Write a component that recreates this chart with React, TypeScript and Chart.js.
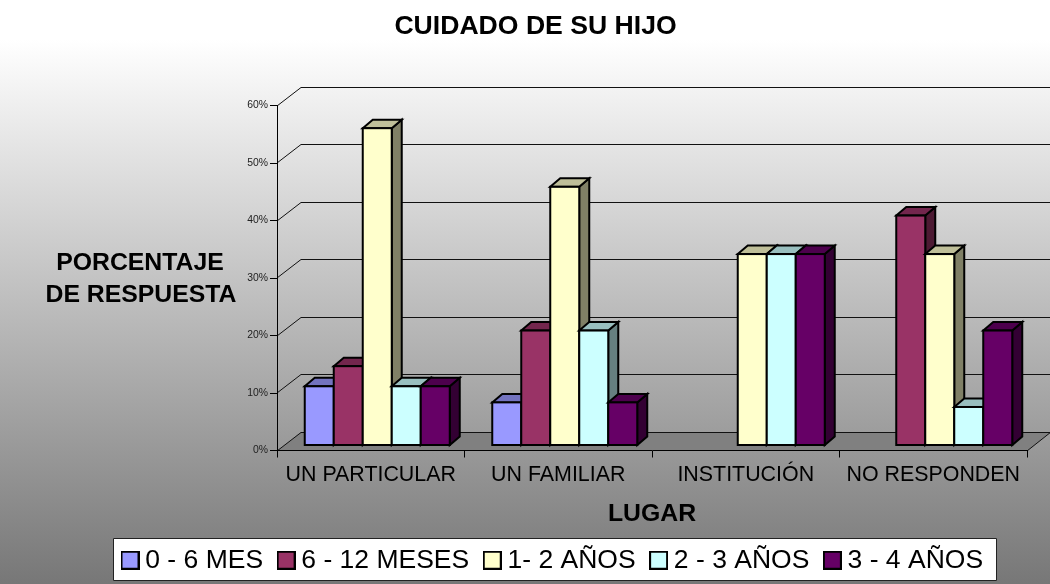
import React, { useEffect, useRef } from "react";
import { Chart, registerables } from "chart.js";

Chart.register(...registerables);

const categories = ["UN PARTICULAR", "UN FAMILIAR", "INSTITUCIÓN", "NO RESPONDEN"];
const seriesNames = ["0 - 6 MES", "6 - 12 MESES", "1- 2 AÑOS", "2 - 3 AÑOS", "3 - 4 AÑOS"];
const months0to6 = [10.3, 7.5, null, null];
const months6to12 = [13.8, 20, null, 40];
const years1to2 = [55.2, 45, 33.3, 33.3];
const years2to3 = [10.3, 20, 33.3, 6.7];
const years3to4 = [10.3, 7.5, 33.3, 20];
const seriesValues = [months0to6, months6to12, years1to2, years2to3, years3to4];
const seriesColors = ["#9999FF", "#993366", "#FFFFCC", "#CCFFFF", "#660066"];
const topColors = ["#7373BF", "#73264D", "#BFBF99", "#99BFBF", "#4D004D"];
const sideColors = ["#4D4D80", "#4D1A33", "#808066", "#668080", "#330033"];
const yTicks = [0, 10, 20, 30, 40, 50, 60];

const titleText = "CUIDADO DE SU HIJO";
const yTitleLines = ["PORCENTAJE", "DE RESPUESTA"];
const xTitleText = "LUGAR";
const FONT = '"Liberation Sans", Arial, sans-serif';

const WALL = { dx: 24, dy: -19 };
const BAR_OFFSET = { dx: 6.5, dy: -5 };
const BAR_DEPTH = { dx: 10, dy: -8.5 };

function swatch(color: string) {
  const c = document.createElement("canvas");
  c.width = 19;
  c.height = 19;
  const g = c.getContext("2d")!;
  g.fillStyle = color;
  g.fillRect(1, 1, 17, 17);
  g.strokeStyle = "#000";
  g.lineWidth = 2;
  g.strokeRect(1, 1, 17, 17);
  return c;
}

function poly(ctx: CanvasRenderingContext2D, pts: number[][], fill?: string, stroke?: string, lw = 1) {
  ctx.beginPath();
  pts.forEach((p, i) => (i ? ctx.lineTo(p[0], p[1]) : ctx.moveTo(p[0], p[1])));
  ctx.closePath();
  if (fill) {
    ctx.fillStyle = fill;
    ctx.fill();
  }
  if (stroke) {
    ctx.strokeStyle = stroke;
    ctx.lineWidth = lw;
    ctx.stroke();
  }
}

const scene3d = {
  id: "scene3d",
  beforeDraw(chart: any) {
    const { ctx, width, height, chartArea: a, scales } = chart;
    const grad = ctx.createLinearGradient(0, 0, 0, height);
    grad.addColorStop(0, "#FFFFFF");
    grad.addColorStop(0.068, "#FFFFFF");
    grad.addColorStop(1, "#777777");
    ctx.fillStyle = grad;
    ctx.fillRect(0, 0, width, height);

    // floor
    const y0 = Math.round(scales.y.getPixelForValue(0));
    poly(
      ctx,
      [
        [a.left, y0],
        [a.right, y0],
        [a.right + WALL.dx, y0 + WALL.dy],
        [a.left + WALL.dx, y0 + WALL.dy],
      ],
      "#808080"
    );

    // gridlines on side wall and back wall
    ctx.strokeStyle = "#111";
    ctx.lineWidth = 1;
    yTicks.forEach((v) => {
      const y = Math.round(scales.y.getPixelForValue(v));
      ctx.beginPath();
      ctx.moveTo(a.left, y);
      ctx.lineTo(a.left + WALL.dx, y + WALL.dy + 0.5);
      ctx.lineTo(a.right + WALL.dx, y + WALL.dy + 0.5);
      ctx.stroke();
    });
    ctx.beginPath();
    ctx.moveTo(a.right, y0);
    ctx.lineTo(a.right + WALL.dx, y0 + WALL.dy);
    ctx.stroke();

    // legend frame and placement
    poly(ctx, [[113.5, 538.5], [996.5, 538.5], [996.5, 580.5], [113.5, 580.5]], "#FFFFFF", "#222", 1);
    const lg = chart.legend;
    const w = lg.right - lg.left;
    lg.left = 107;
    lg.right = 107 + w;
    const h = lg.bottom - lg.top;
    lg.top = 526;
    lg.bottom = 526 + h;

    const tb = chart.titleBlock;
    const th = tb.bottom - tb.top;
    tb.left = 236;
    tb.right = 835;
    tb.top = 13;
    tb.bottom = 13 + th;

    // horizontal value-axis title
    ctx.fillStyle = "#000";
    ctx.font = `bold 24.8px ${FONT}`;
    ctx.textAlign = "center";
    ctx.textBaseline = "alphabetic";
    ctx.fillText(yTitleLines[0], 140, 270);
    ctx.fillText(yTitleLines[1], 141, 302);
  },
  beforeDatasetsDraw(chart: any) {
    const { ctx } = chart;
    seriesValues.forEach((_, i) => {
      const meta = chart.getDatasetMeta(i);
      ctx.save();
      ctx.translate(BAR_OFFSET.dx, BAR_OFFSET.dy);
      const boxes = meta.data
        .map((bar: any, k: number) => (seriesValues[i][k] == null ? null : bar))
        .filter(Boolean);
      boxes.forEach((bar: any) => {
        const l = bar.x - bar.width / 2;
        const r = bar.x + bar.width / 2;
        const t = bar.y;
        const b = bar.base;
        const { dx, dy } = BAR_DEPTH;
        poly(ctx, [[r, t], [r + dx, t + dy], [r + dx, b + dy], [r, b]], sideColors[i], "#000", 2);
        poly(ctx, [[l, t], [l + dx, t + dy], [r + dx, t + dy], [r, t]], topColors[i], "#000", 2);
      });
      meta.controller.draw();
      boxes.forEach((bar: any) => {
        ctx.strokeStyle = "#000";
        ctx.lineWidth = 2;
        ctx.strokeRect(bar.x - bar.width / 2, bar.y, bar.width, bar.base - bar.y);
      });
      ctx.restore();
    });
    return false;
  },
};

export default function App() {
  const ref = useRef<HTMLCanvasElement>(null);
  useEffect(() => {
    const chart = new Chart(ref.current!, {
      type: "bar",
      data: {
        labels: categories,
        datasets: seriesNames.map((name, i) => ({
          label: name,
          data: seriesValues[i],
          backgroundColor: seriesColors[i],
          borderWidth: 0,
          categoryPercentage: 0.7733,
          barPercentage: 1,
        })),
      },
      options: {
        animation: false,
        responsive: false,
        events: [],
        layout: { padding: { left: 0, right: 23, top: 79, bottom: 0 } },
        scales: {
          x: {
            afterFit: (s: any) => {
              s.height = 76;
            },
            title: {
              display: true,
              text: xTitleText,
              color: "#000",
              padding: 0,
              font: { family: FONT, size: 24.8, weight: "bold", lineHeight: 1 },
            },
            grid: { drawOnChartArea: false, drawTicks: true, tickLength: 7, color: "#000" },
            border: { color: "#000", width: 1 },
            ticks: {
              color: "#000",
              font: { family: FONT, size: 21.4 },
              maxRotation: 0,
              autoSkip: false,
              padding: 5,
            },
          },
          y: {
            min: 0,
            max: 60,
            afterFit: (s: any) => {
              s.width = 277;
            },
            afterBuildTicks: (s: any) => {
              s.ticks = yTicks.map((value) => ({ value }));
            },
            grid: { drawOnChartArea: false, drawTicks: true, tickLength: 7, color: "#000" },
            border: { color: "#000", width: 1 },
            ticks: {
              color: "#222",
              font: { family: FONT, size: 10.4 },
              padding: 2,
              callback: (v: any) => `${v}%`,
            },
          },
        },
        plugins: {
          tooltip: { enabled: false },
          title: {
            display: true,
            text: titleText,
            color: "#000",
            align: "center",
            padding: 0,
            font: { family: FONT, size: 26.6, weight: "bold", lineHeight: 1 },
          },
          legend: {
            display: true,
            position: "bottom",
            align: "start",
            labels: {
              color: "#000",
              font: { family: FONT, size: 26.5 },
              usePointStyle: true,
              pointStyleWidth: 4,
              padding: 21,
              generateLabels: () =>
                seriesNames.map((text, i) => ({
                  text,
                  fillStyle: seriesColors[i],
                  strokeStyle: "#000",
                  lineWidth: 0,
                  pointStyle: swatch(seriesColors[i]),
                  datasetIndex: i,
                  hidden: false,
                  fontColor: "#000",
                })),
            },
          },
        },
      },
      plugins: [scene3d],
    } as any);
    return () => chart.destroy();
  }, []);
  return (
    <div style={{ position: "absolute", left: 0, top: 0, width: 1050, height: 584 }}>
      <canvas ref={ref} width={1050} height={584} style={{ display: "block", width: 1050, height: 584 }} />
    </div>
  );
}
